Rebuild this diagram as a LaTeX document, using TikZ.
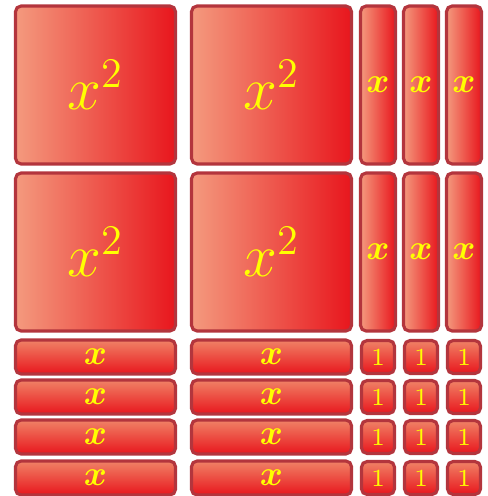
\documentclass[tikz,border=0pt]{standalone}
\usepackage{xcolor}
\usepackage{tikz}
\usetikzlibrary{positioning}
\definecolor{tileLight}{HTML}{F49A7E}
\definecolor{tileRed}{HTML}{E8161D}
\definecolor{tileTop}{HTML}{F08266}
\definecolor{tileEdge}{HTML}{B3353D}
\definecolor{labelYellow}{HTML}{FFFF00}
\tikzset{
  tile/.style={rectangle,draw=tileEdge,line width=0.9pt,rounded corners=1.6pt,
    inner sep=0pt,outer sep=0pt,text=labelYellow},
  square/.style={tile,left color=tileLight,right color=tileRed,
    minimum width=1.6cm,minimum height=1.58cm,font=\fontsize{17}{17}\selectfont},
  xbar/.style={tile,left color=tileLight,right color=tileRed,
    minimum width=0.35cm,minimum height=1.58cm,font=\fontsize{10}{10}\selectfont\boldmath},
  xstrip/.style={tile,top color=tileTop,bottom color=tileRed,
    minimum width=1.6cm,minimum height=0.34cm,font=\fontsize{10}{10}\selectfont\boldmath},
  unit/.style={tile,top color=tileTop,bottom color=tileRed,
    minimum width=0.33cm,minimum height=0.33cm,font=\fontsize{7}{7}\selectfont}
}
\begin{document}
\begin{tikzpicture}
\useasboundingbox (0,0) rectangle (4.87,-4.96);
% x^2 squares
\node[square] (sqA) at (0.955,-0.85) {$x^2$};
\node[square, right=0.16cm of sqA] (sqB) {$x^2$};
\node[square, below=0.09cm of sqA] (sqC) {$x^2$};
\node[square, below=0.09cm of sqB] (sqD) {$x^2$};

% x bars
\node[xbar, right=0.09cm of sqB] (barA) {$x$};
\node[xbar, right=0.08cm of barA] (barB) {$x$};
\node[xbar, right=0.08cm of barB] (barC) {$x$};
\node[xbar, below=0.09cm of barA] (barD) {$x$};
\node[xbar, below=0.09cm of barB] (barE) {$x$};
\node[xbar, below=0.09cm of barC] (barF) {$x$};

% x strips
\node[xstrip, below=0.09cm of sqC] (stA) {$x$};
\node[xstrip, below=0.06cm of stA] (stB) {$x$};
\node[xstrip, below=0.06cm of stB] (stC) {$x$};
\node[xstrip, below=0.07cm of stC] (stD) {$x$};
\node[xstrip, below=0.09cm of sqD] (stE) {$x$};
\node[xstrip, below=0.06cm of stE] (stF) {$x$};
\node[xstrip, below=0.06cm of stF] (stG) {$x$};
\node[xstrip, below=0.07cm of stG] (stH) {$x$};

% unit tiles
\node[unit] (uA) at (barD |- stA) {1};
\node[unit] (uB) at (barE |- stA) {1};
\node[unit] (uC) at (barF |- stA) {1};
\node[unit] (uD) at (barD |- stB) {1};
\node[unit] (uE) at (barE |- stB) {1};
\node[unit] (uF) at (barF |- stB) {1};
\node[unit] (uG) at (barD |- stC) {1};
\node[unit] (uH) at (barE |- stC) {1};
\node[unit] (uI) at (barF |- stC) {1};
\node[unit] (uJ) at (barD |- stD) {1};
\node[unit] (uK) at (barE |- stD) {1};
\node[unit] (uL) at (barF |- stD) {1};
\end{tikzpicture}
\end{document}
